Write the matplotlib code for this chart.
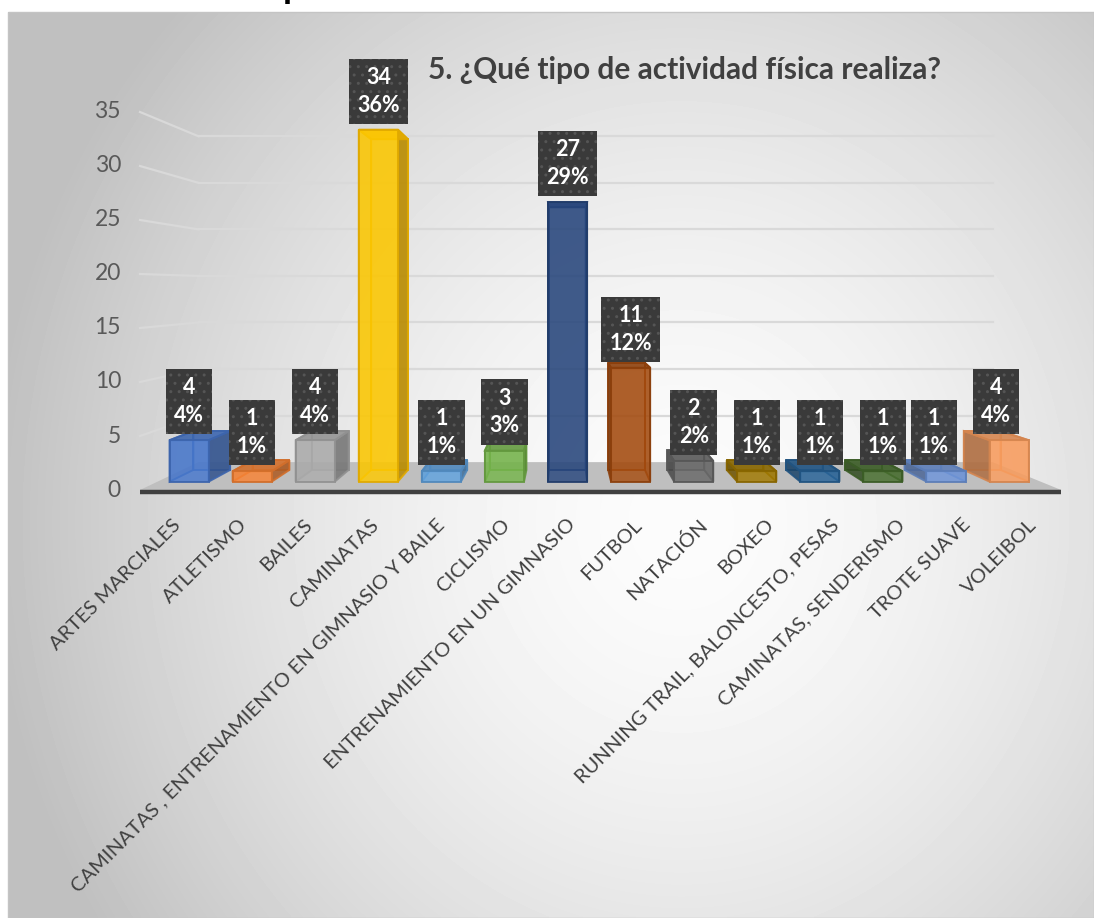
import numpy as np
import matplotlib
matplotlib.use("Agg")
import matplotlib.pyplot as plt
from matplotlib.patches import Polygon, Rectangle
from matplotlib import colors as mcolors

plt.rcParams['font.family'] = ['Lato', 'DejaVu Sans']

titulo = "5. ¿Qué tipo de actividad física realiza?"
categorias = ["ARTES MARCIALES", "ATLETISMO", "BAILES", "CAMINATAS",
              "CAMINATAS , ENTRENAMIENTO EN GIMNASIO Y BAILE", "CICLISMO",
              "ENTRENAMIENTO EN UN GIMNASIO", "FUTBOL", "NATACIÓN", "BOXEO",
              "RUNNING TRAIL, BALONCESTO, PESAS", "CAMINATAS, SENDERISMO",
              "TROTE SUAVE", "VOLEIBOL"]
cantidades = [4, 1, 4, 34, 1, 3, 27, 11, 2, 1, 1, 1, 1, 4]
porcentajes = ["4%", "1%", "4%", "36%", "1%", "3%", "29%", "12%", "2%",
               "1%", "1%", "1%", "1%", "4%"]
colores = ["#4472C4", "#ED7D31", "#A5A5A5", "#FFC000", "#5B9BD5", "#70AD47",
           "#264478", "#9E480E", "#636363", "#997300", "#255E91", "#43682B",
           "#698ED0", "#F1975A"]
ticks_y = [0, 5, 10, 15, 20, 25, 30, 35]

# figure in pixels, front plane of the 3d plot
W, H = 1094, 918
X_LEFT, COL_W = 140, 65.8
Y_ZERO, UNIT_H = 490, 10.8


def px(x, y):
    return ((x - X_LEFT) / COL_W, (Y_ZERO - y) / UNIT_H)


fig = plt.figure(figsize=(W / 100, H / 100), dpi=100)
ax = fig.add_axes([0, 0, 1, 1])
ax.axis('off')

# perspective: everything shrinks toward the vanishing point with depth z
VP = px(564, 288)
DEPTH_K = 0.138


def proj(x, y, z):
    s = 1 - DEPTH_K * z
    return (VP[0] + (x - VP[0]) * s, VP[1] + (y - VP[1]) * s)


# gray background with a soft light spot
yy, xx = np.mgrid[12:918:3, 8:1094:3]
r = np.sqrt(((xx - 680) / 600.0) ** 2 + ((yy - 520) / 650.0) ** 2)
fondo = (252 - 48 * np.minimum(r, 1.15) ** 1.6) / 255.0
x0, y1 = px(8, 12)
x1, y0 = px(W, H)
ax.imshow(fondo, cmap='gray', vmin=0, vmax=1, extent=[x0, x1, y0, y1],
          origin='upper', aspect='auto', interpolation='bilinear', zorder=0)
ax.add_patch(Rectangle((x0, y0), x1 - x0, y1 - y0, fill=False,
                       edgecolor='#c4c4c4', lw=1, zorder=0.5))

n = len(categorias)

# walls: gridlines on back wall and side wall
for v in ticks_y[1:]:
    a, b = proj(0, v, 1), proj(n, v, 1)
    ax.plot([a[0], b[0]], [a[1], b[1]], color='#d9d9d9', lw=1.6, zorder=1)
    a, b = proj(0, v, 0), proj(0, v, 1)
    ax.plot([a[0], b[0]], [a[1], b[1]], color='#d9d9d9', lw=1.6, zorder=1)

# floor
piso = [proj(0, 0, 0), proj(n, 0, 0), proj(n, 0, 1), proj(0, 0, 1)]
ax.add_patch(Polygon(piso, closed=True, fc='#bfbfbf', ec='none', zorder=1))
ax.plot([0, n], [-0.2, -0.2], color='#404040', lw=3.2,
        solid_capstyle='butt', zorder=2)

for v in ticks_y:
    ax.text(px(121, 0)[0], v, str(v), ha='right', va='center',
            fontsize=16.5, color='#595959')

# bars as semi transparent boxes
HW, ZF, ZB = 0.31, 0.30, 0.72


def tono(c, f):
    rgb = np.array(mcolors.to_rgb(c))
    return tuple(np.clip(rgb * f, 0, 1))


for i, (val, col) in enumerate(zip(cantidades, colores)):
    c = i + 0.5
    xa, xb = c - HW, c + HW
    borde = tono(col, 0.88)
    caras = [
        ([proj(xa, 0, ZB), proj(xb, 0, ZB), proj(xb, val, ZB), proj(xa, val, ZB)],
         tono(col, 0.8), 0.35),
        ([proj(xa, 0, ZF), proj(xa, 0, ZB), proj(xa, val, ZB), proj(xa, val, ZF)],
         tono(col, 0.72), 0.85 if c > VP[0] else 0.3),
        ([proj(xb, 0, ZF), proj(xb, 0, ZB), proj(xb, val, ZB), proj(xb, val, ZF)],
         tono(col, 0.72), 0.85 if c < VP[0] else 0.3),
        ([proj(xa, val, ZF), proj(xb, val, ZF), proj(xb, val, ZB), proj(xa, val, ZB)],
         tono(col, 0.9), 0.85),
        ([proj(xa, 0, ZF), proj(xb, 0, ZF), proj(xb, val, ZF), proj(xa, val, ZF)],
         tono(col, 1.05), 0.82),
    ]
    for k, (pts, fc, al) in enumerate(caras):
        ax.add_patch(Polygon(pts, closed=True, fc=fc, alpha=al, ec='none',
                             zorder=3 + k * 0.1))
        ax.add_patch(Polygon(pts, closed=True, fill=False, ec=borde, lw=1.4,
                             alpha=0.9, zorder=3 + k * 0.1))

# data labels (count and share) in dark boxes
FS_ETQ = 15.5
pad = 0.38
pad_y = pad * FS_ETQ * 100 / 72 / UNIT_H
ajuste_x = {12: -0.18, 13: -0.2}
for i, (val, pct) in enumerate(zip(cantidades, porcentajes)):
    fx, fy = proj(i + 0.5, val, ZF)
    ax.text(fx + ajuste_x.get(i, 0), fy + 0.55 + pad_y, f"{val}\n{pct}",
            ha='center', va='bottom', multialignment='center',
            fontsize=FS_ETQ, fontweight='bold', color='white', linespacing=1.4,
            zorder=6,
            bbox=dict(boxstyle=f'square,pad={pad}', facecolor='#3a3a3a',
                      edgecolor='#555555', hatch='..', linewidth=0))

# category labels
for i, nombre in enumerate(categorias):
    ax.text(i + 0.5 + 0.08, px(0, 522)[1], nombre, rotation=45,
            rotation_mode='anchor', ha='right', va='center',
            fontsize=14.5, color='#404040')

ax.text(*px(428, 79), titulo, ha='left', va='baseline', fontsize=21.5,
        fontweight='bold', color='#404040', zorder=7)
ax.text(*px(283, -2), "p", ha='left', va='baseline', fontsize=26,
        fontweight='bold', color='black')

ax.set_xlim(-X_LEFT / COL_W, (W - X_LEFT) / COL_W)
ax.set_ylim((Y_ZERO - H) / UNIT_H, Y_ZERO / UNIT_H)

fig.savefig("out.png", dpi=100)
